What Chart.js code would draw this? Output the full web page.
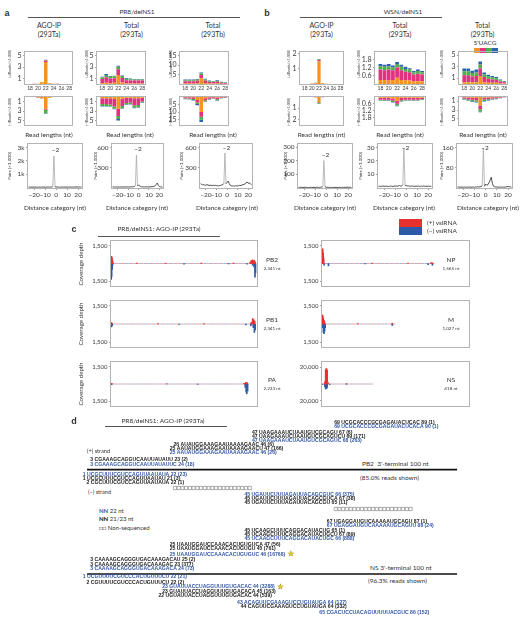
<!DOCTYPE html>
<html>
<head>
<meta charset="utf-8">
<script src="https://cdn.jsdelivr.net/npm/chart.js@4.4.1/dist/chart.umd.min.js"></script>
<style>
  html, body { margin: 0; padding: 0; background: #fff; overflow: hidden; }
  #fig { position: relative; width: 532px; height: 625px; overflow: hidden; font-family: Lato, "Open Sans", sans-serif; color: #333; }
  #fig canvas { position: absolute; }
  .t { position: absolute; white-space: nowrap; line-height: 1; }
  .rule { position: absolute; height: 0; }
  .sw { position: absolute; }
</style>
</head>
<body>
<div id="fig"></div>
<script>
// ---- size distribution data (reads x1,000), rows are 5' nucleotide U, A, C, G ----
const readLengths = [18, 19, 20, 21, 22, 23, 24, 25, 26, 27, 28];
const lengthTicks = [18, 20, 22, 24, 26, 28];
const nucleotides = ['U', 'A', 'C', 'G'];
const nucColors = ['#f6921e', '#e2327f', '#52ad4c', '#2c63ae'];

const a1Plus = [
  [0.01, 0.02, 0.03, 0.28, 3.9, 0.1, 0.03, 0.02, 0.01, 0.01, 0.01],
  [0.01, 0.01, 0.01, 0.04, 0.25, 0.03, 0.01, 0.01, 0.01, 0.01, 0.01],
  [0, 0, 0.01, 0.02, 0.08, 0.01, 0.01, 0, 0, 0, 0],
  [0, 0, 0, 0.01, 0.04, 0.01, 0, 0, 0, 0, 0]];
const a1Minus = [
  [0.01, 0.02, 0.15, 0.3, 2.5, 0.2, 0.02, 0.01, 0.01, 0.01, 0.01],
  [0.01, 0.01, 0.1, 0.08, 0.2, 0.03, 0.01, 0.01, 0, 0, 0],
  [0, 0, 0.02, 0.04, 0.7, 0.02, 0, 0, 0, 0, 0],
  [0, 0, 0, 0.01, 0.1, 0, 0, 0, 0, 0, 0]];
const a2Plus = [
  [0.15, 0.2, 0.15, 0.2, 1.6, 0.25, 0.1, 0.1, 0.1, 0.1, 0.1],
  [0.75, 1.0, 0.8, 0.8, 1.0, 0.8, 0.55, 0.5, 0.5, 0.5, 0.5],
  [0.3, 0.4, 0.35, 0.35, 0.45, 0.35, 0.25, 0.25, 0.2, 0.2, 0.2],
  [0.1, 0.15, 0.1, 0.1, 0.15, 0.1, 0.1, 0.1, 0.1, 0.1, 0.1]];
const a2Minus = [
  [0.3, 0.3, 0.3, 0.5, 2.5, 0.4, 0.2, 0.2, 0.3, 0.3, 0.2],
  [1.2, 1.2, 1.3, 1.5, 1.5, 1.5, 1.1, 1.0, 1.5, 1.4, 0.8],
  [0.4, 0.4, 0.4, 0.5, 0.6, 0.5, 0.3, 0.3, 0.5, 0.5, 0.2],
  [0.1, 0.1, 0.1, 0.1, 0.3, 0.1, 0.1, 0.1, 0.1, 0.1, 0.1]];
const a3Plus = [
  [0.3, 0.3, 0.3, 0.4, 3.0, 0.4, 0.2, 0.2, 0.2, 0.1, 0.1],
  [1.2, 1.2, 1.2, 1.3, 1.8, 1.4, 0.9, 0.8, 1.0, 0.6, 0.4],
  [0.5, 0.5, 0.5, 0.5, 0.7, 0.6, 0.4, 0.3, 0.4, 0.3, 0.2],
  [0.4, 0.4, 0.4, 0.4, 0.5, 0.4, 0.3, 0.3, 0.4, 0.2, 0.2]];
const a3Minus = [
  [0.3, 0.3, 0.4, 2.2, 10, 1.0, 0.4, 0.3, 0.5, 0.3, 0.2],
  [0.7, 0.8, 1.1, 1.6, 3.0, 1.3, 0.9, 0.7, 1.2, 0.5, 0.3],
  [0.4, 0.5, 0.6, 1.0, 2.0, 0.8, 0.4, 0.3, 0.7, 0.2, 0.2],
  [0.2, 0.2, 0.3, 0.7, 1.5, 0.4, 0.3, 0.2, 0.4, 0.2, 0.1]];
const b1Plus = [
  [0, 0, 0.02, 0.05, 1.5, 0.04, 0.01, 0, 0, 0, 0],
  [0, 0, 0.01, 0.02, 0.1, 0.01, 0, 0, 0, 0, 0],
  [0, 0, 0.01, 0.01, 0.05, 0.01, 0, 0, 0, 0, 0],
  [0, 0, 0, 0, 0.02, 0, 0, 0, 0, 0, 0]];
const b1Minus = [
  [0, 0, 0.01, 0.05, 0.45, 0.03, 0.01, 0, 0, 0, 0],
  [0, 0, 0, 0.02, 0.05, 0.01, 0, 0, 0, 0, 0],
  [0, 0, 0, 0.01, 0.12, 0.01, 0, 0, 0, 0, 0],
  [0, 0, 0, 0, 0.02, 0, 0, 0, 0, 0, 0]];
const b2Plus = [
  [0.3, 0.3, 0.3, 0.3, 0.45, 0.3, 0.25, 0.25, 0.2, 0.2, 0.2],
  [0.75, 0.7, 0.75, 0.7, 0.75, 0.7, 0.65, 0.6, 0.5, 0.55, 0.5],
  [0.25, 0.25, 0.25, 0.2, 0.25, 0.25, 0.2, 0.2, 0.15, 0.2, 0.15],
  [0.15, 0.15, 0.15, 0.15, 0.15, 0.15, 0.15, 0.1, 0.1, 0.1, 0.1]];
const b2Minus = [
  [0.1, 0.1, 0.1, 0.15, 0.35, 0.1, 0.1, 0.1, 0.1, 0.1, 0.1],
  [0.15, 0.15, 0.15, 0.2, 0.25, 0.2, 0.15, 0.15, 0.15, 0.15, 0.1],
  [0.07, 0.08, 0.08, 0.1, 0.15, 0.1, 0.06, 0.07, 0.06, 0.07, 0.06],
  [0.03, 0.03, 0.03, 0.04, 0.06, 0.04, 0.03, 0.03, 0.03, 0.03, 0.03]];
const b3Plus = [
  [0.3, 0.3, 0.3, 0.3, 1.4, 0.3, 0.2, 0.2, 0.2, 0.1, 0.1],
  [1.2, 1.2, 1.0, 1.1, 1.3, 0.9, 0.7, 0.6, 0.5, 0.35, 0.2],
  [0.7, 0.7, 0.6, 0.6, 0.7, 0.5, 0.4, 0.35, 0.3, 0.2, 0.1],
  [0.5, 0.5, 0.4, 0.5, 0.5, 0.3, 0.3, 0.25, 0.2, 0.15, 0.1]];
const b3Minus = [
  [0.15, 0.2, 0.25, 0.3, 2.0, 0.25, 0.2, 0.15, 0.1, 0.07, 0.04],
  [0.25, 0.35, 0.45, 0.5, 0.8, 0.4, 0.35, 0.25, 0.25, 0.13, 0.08],
  [0.2, 0.25, 0.35, 0.35, 0.5, 0.3, 0.25, 0.2, 0.15, 0.1, 0.05],
  [0.1, 0.1, 0.15, 0.15, 0.2, 0.15, 0.1, 0.1, 0.1, 0.05, 0.03]];

// ---- overlapping pair distance (pairs x1,000) ----
const distance = [-25, -24, -23, -22, -21, -20, -19, -18, -17, -16, -15, -14, -13, -12, -11, -10, -9, -8, -7, -6, -5, -4,
  -3, -2, -1, 0, 1, 2, 3, 4, 5, 6, 7, 8, 9, 10, 11, 12, 13, 14, 15, 16, 17, 18, 19, 20, 21, 22, 23];
const distanceTicks = [-20, -10, 0, 10, 20];
const a1Pairs = [9, 8, 6, 7, 5, 6, 8, 7, 6, 5, 7, 6, 8, 9, 7, 6, 8, 10, 12, 9, 11, 15,
  40, 2370, 30, 18, 12, 10, 9, 8, 10, 9, 11, 12, 10, 9, 8, 10, 12, 11, 9, 10, 14, 18, 22, 15, 12, 10, 9];
const a2Pairs = [6, 6, 5, 5, 6, 5, 4, 5, 6, 5, 5, 6, 5, 6, 7, 6, 5, 6, 8, 7, 9, 12,
  25, 490, 20, 38, 22, 12, 8, 7, 6, 6, 7, 8, 7, 6, 8, 9, 10, 12, 15, 25, 45, 65, 30, 12, 8, 6, 5];
const a3Pairs = [55, 45, 38, 40, 35, 30, 42, 36, 28, 34, 30, 25, 32, 28, 30, 26, 24, 22, 28, 30, 35, 40,
  60, 520, 55, 75, 95, 60, 30, 25, 22, 20, 18, 24, 22, 20, 26, 30, 28, 35, 40, 45, 55, 70, 80, 60, 70, 50, 40];
const b1Pairs = [2, 2, 1, 2, 1, 1, 2, 1, 2, 1, 1, 2, 1, 1, 2, 1, 2, 2, 1, 2, 3, 4,
  6, 200, 5, 3, 2, 2, 1, 1, 2, 1, 1, 2, 1, 1, 1, 2, 1, 1, 2, 1, 2, 1, 2, 3, 2, 2, 1];
const b2Pairs = [1, 1, 0.8, 1, 1.2, 0.9, 1, 1.1, 1, 0.8, 1, 1.2, 1, 0.9, 1, 1.1, 1.2, 1, 1.3, 1.5, 1.2, 1.4,
  2, 29.5, 1.8, 1.5, 1.2, 1.3, 1.1, 1, 1.2, 1.1, 1, 0.9, 1.1, 1, 1.2, 1, 0.9, 1.1, 1, 1.2, 1, 0.9, 1, 1.1, 1, 0.9, 1];
const b3Pairs = [3, 3, 2, 3, 2, 2, 3, 2, 2, 3, 2, 3, 2, 2, 3, 2, 3, 3, 4, 3, 4, 5,
  8, 158, 6, 15, 10, 12, 20, 30, 42, 18, 6, 4, 3, 3, 2, 3, 2, 3, 2, 3, 2, 3, 4, 5, 4, 3, 3];

// ---- coverage depth: [position (nt), depth] ----
const pb2Plus = [[4, 250], [10, 600], [16, 480], [22, 300], [30, 120], [420, 40], [880, 30], [1460, 35], [1980, 40],
  [2250, 120], [2268, 260], [2284, 300], [2300, 220], [2316, 280], [2330, 150]];
const pb2Minus = [[4, 1350], [10, 1100], [18, 500], [26, 150], [1180, 50], [1900, 40], [2200, 60], [2290, 150],
  [2312, 300], [2328, 1150], [2336, 800]];
const pb1Plus = [[6, 120], [14, 80], [760, 30], [1500, 30], [2270, 150], [2290, 450], [2306, 350], [2322, 250]];
const pb1Minus = [[4, 250], [12, 200], [20, 100], [1100, 40], [2180, 80], [2260, 150], [2300, 300], [2318, 700], [2330, 500]];
const paPlus = [[6, 60], [14, 40], [900, 25], [2150, 60], [2180, 140], [2200, 120]];
const paMinus = [[8, 50], [1400, 30], [2170, 300], [2185, 700], [2195, 850], [2208, 600]];
const npPlus = [[4, 600], [10, 1250], [16, 900], [24, 400], [700, 30], [1200, 30], [1520, 80], [1540, 60]];
const npMinus = [[30, 150], [90, 200], [600, 30], [1480, 100], [1540, 150]];
const mPlus = [[4, 750], [10, 700], [18, 500], [26, 300], [34, 200], [500, 30], [980, 60]];
const mMinus = [[10, 300], [20, 700], [28, 800], [36, 600], [44, 300], [980, 120]];
const nsPlus = [[24, 3000], [30, 17000], [36, 18500], [42, 16500], [48, 2000], [200, 300]];
const nsMinus = [[6, 500], [24, 3500], [30, 6000], [36, 5500], [42, 4000], [64, 400], [200, 200]];
const segmentLengths = { PB2: 2341, PB1: 2341, PA: 2233, NP: 1565, M: 1027, NS: 418 };
const depthTick = 1500;
const nsDepthTick = 20000;

// ---- reads at the 3' terminal 100 nt: [start, sequence, end, count] ----
const pb2PlusReads = [
  [69, 'UCGCACCCGCGAGAUACUCAC', 89, 1],
  [69, 'UCGCACCCGCGAGAUACUCACA', 90, 1],
  [47, 'UAAGAAAUCUAAUGUCGCAGU', 67, 6],
  [47, 'UAAGAAAUCUAAUGUCGCAGUCU', 69, 171],
  [47, 'UAAGAAAUCUAAUGUCGCAGUC', 68, 263],
  [26, 'AUAUGGAAAGAAUAAAAGAAC', 46, 6],
  [25, 'AAUAUGGAAAGAAUAAAAGAACU', 47, 166],
  [25, 'AAUAUGGAAAGAAUAAAAGAAC', 46, 26],
  [3, 'CGAAAGCAGGUCAAUUAUAUU', 23, 2],
  [3, 'CGAAAGCAGGUCAAUUAUAUUC', 24, 18]];
const pb2MinusReads = [
  [1, 'UCGCUUUCGUCCAGUUAAUAUA', 22, 23],
  [1, 'UCGCUUUCGUCCAGUUAAUAU', 21, 3],
  [2, 'CGCUUUCGUCCAGUUAAUAUA', 22, 1],
  [45, 'UGAUUCUUUAGAUUACAGCGUC', 66, 375],
  [45, 'UGAUUCUUUAGAUUACAGCGUCA', 67, 38],
  [45, 'UGAUUCUUUAGAUUACAGCGU', 65, 11]];
const nsPlusReads = [
  [67, 'UGAGGAUGUCAAAAAUGCAGU', 87, 1],
  [67, 'UGAGGAUGUCAAAAAUGCAGUU', 88, 24],
  [45, 'UCAAGCUUUCAGGACAUACUG', 65, 1],
  [45, 'UCAAGCUUUCAGGACAUACUGCU', 67, 89],
  [45, 'UCAAGCUUUCAGGACAUACUGC', 66, 888],
  [25, 'UAAUGGAUCCAAACACUGUGUCA', 47, 56],
  [25, 'UAAUGGAUCCAAACACUGUGU', 45, 761],
  [25, 'UAAUGGAUCCAAACACUGUGUC', 46, 16768],
  [3, 'CAAAAGCAGGGUGACAAAGACAU', 25, 2],
  [3, 'CAAAAGCAGGGUGACAAAGAC', 23, 377],
  [3, 'CAAAAGCAGGGUGACAAAGACA', 24, 73]];
const nsMinusReads = [
  [1, 'UCGUUUUCGUCCCACUGUUUCU', 22, 21],
  [2, 'CGUUUUCGUCCCACUGUUUCU', 22, 2],
  [23, 'GUAUUACCUAGGUUUGUGACAC', 44, 3288],
  [23, 'GUAUUACCUAGGUUUGUGACACA', 45, 163],
  [22, 'UGUAUUACCUAGGUUUGUGACAC', 44, 539],
  [43, 'ACAGUUCGAAAGUCCUGUAUGA', 64, 127],
  [44, 'CAGUUCGAAAGUCCUGUAUGA', 64, 332],
  [65, 'CGACUCCUACAGUUUUUACGUC', 86, 152]];
const starredCounts = [16768, 3288];
const pb2GapA = [24, 25, 26, 27, 28, 29, 30, 31, 32, 33, 34, 35, 36, 37, 38, 39, 40, 41, 42, 43, 44];
const pb2GapB = [67, 68, 69, 70, 71, 72, 73, 74, 75, 76, 77, 78, 79, 80, 81, 82, 83, 84, 85, 86, 87];

// row layout of panel d (text lines)
const pb2PlusRows = [0.7, 1.6, 3.25, 4.1, 5.1, 6.3, 7.25, 8.2, 10, 11.1];
const pb2MinusRows = [13.6, 14.6, 15.6, 18.75, 19.75, 20.75];
const nsPlusRows = [25.4, 26.4, 27.75, 28.75, 29.75, 31.25, 32.25, 33.6, 35, 36.1, 37.25];
const nsMinusRows = [39.3, 40.6, 41.75, 42.9, 43.9, 45.7, 46.8, 48.1];

const RED = '#e8312f';
const BLUE = '#2b5aa8';
const SEQ_BLUE = '#3156a8';

Chart.defaults.font.family = 'Lato, "Open Sans", sans-serif';
Chart.defaults.color = '#3a3a3a';

const fig = document.getElementById('fig');

function label(html, x, y, size, opts = {}) {
  const d = document.createElement('div');
  d.className = 't';
  d.innerHTML = html;
  d.style.fontSize = size + 'px';
  d.style.left = x + 'px';
  d.style.top = y + 'px';
  const ax = opts.align === 'left' ? '0' : opts.align === 'right' ? '-100%' : '-50%';
  d.style.transform = `translate(${ax}, -50%)` + (opts.rotate ? ` rotate(${opts.rotate}deg)` : '');
  if (opts.bold) d.style.fontWeight = 'bold';
  if (opts.family) d.style.fontFamily = opts.family;
  if (opts.color) d.style.color = opts.color;
  fig.appendChild(d);
}

function rule(x1, x2, y, w = 0.8, color = '#555') {
  const d = document.createElement('div');
  d.className = 'rule';
  d.style.left = x1 + 'px';
  d.style.width = (x2 - x1) + 'px';
  d.style.top = y + 'px';
  d.style.borderTop = `${w}px solid ${color}`;
  fig.appendChild(d);
}

function swatch(x, y, w, h, color) {
  const d = document.createElement('div');
  d.className = 'sw';
  Object.assign(d.style, { left: x + 'px', top: y + 'px', width: w + 'px', height: h + 'px', background: color });
  fig.appendChild(d);
}

// frame around the plot area
const framePlugin = {
  id: 'frame',
  afterDatasetsDraw(chart) {
    const { left, top, right, bottom } = chart.chartArea;
    const ctx = chart.ctx;
    ctx.save();
    ctx.strokeStyle = '#b3b3b3';
    ctx.lineWidth = 1;
    ctx.strokeRect(Math.round(left) - 0.5, Math.round(top) - 0.5, Math.round(right - left) + 1, Math.round(bottom - top) + 1);
    ctx.restore();
  }
};

// label the highest point with its distance category
const peakPlugin = {
  id: 'peak',
  afterDatasetsDraw(chart) {
    const pts = chart.data.datasets[0].data;
    let best = 0;
    pts.forEach((p, i) => { if (p.y > pts[best].y) best = i; });
    const el = chart.getDatasetMeta(0).data[best];
    const v = pts[best].x;
    const ctx = chart.ctx;
    ctx.save();
    ctx.font = '6.5px Lato, sans-serif';
    ctx.fillStyle = '#333';
    ctx.textAlign = 'center';
    ctx.textBaseline = 'middle';
    ctx.fillText(v < 0 ? '\u2212' + (-v) : String(v), el.x + 1.5, Math.max(chart.chartArea.top + 3.5, el.y - 6));
    ctx.restore();
  }
};

function addCanvas(left, top, width, height) {
  const c = document.createElement('canvas');
  c.width = width;
  c.height = height;
  c.style.left = left + 'px';
  c.style.top = top + 'px';
  c.style.width = width + 'px';
  c.style.height = height + 'px';
  fig.appendChild(c);
  return c;
}

// box = [x, y, w, h] of the plot frame, pad = [left, top, right, bottom] room for axes
function placeChart(box, pad, config) {
  const [x, y, w, h] = box;
  const [pl, pt, pr, pb] = pad;
  const canvas = addCanvas(Math.round(x - pl), Math.round(y - pt), Math.round(w + pl + pr), Math.round(h + pt + pb));
  const o = config.options;
  const sx = o.scales.x, sy = o.scales.y;
  o.responsive = false;
  o.animation = false;
  o.devicePixelRatio = 1;
  o.layout = { padding: { left: sy.display === false ? pl : 0, top: pt, right: pr, bottom: sx.display === false ? pb : 0 } };
  if (sy.display !== false) sy.afterFit = s => { s.width = pl; };
  if (sx.display !== false) sx.afterFit = s => { s.height = pb; };
  o.plugins = Object.assign({ legend: { display: false }, tooltip: { enabled: false } }, o.plugins || {});
  return new Chart(canvas, config);
}

const tickGrid = { display: true, drawOnChartArea: false, drawTicks: true, tickLength: 2, color: '#888', lineWidth: 0.8 };

function sizeChart(box, stacks, yMax, yTicks, lower) {
  const datasets = nucleotides.map((n, k) => ({
    label: n,
    data: readLengths.map((len, i) => ({ x: len, y: stacks[k][i] })),
    backgroundColor: nucColors[k],
    barPercentage: 0.9,
    categoryPercentage: 1
  }));
  return placeChart(box, [16, 4, 3, lower ? 2 : 9], {
    type: 'bar',
    data: { datasets },
    options: {
      scales: {
        x: {
          type: 'linear', stacked: true, offset: false, min: 16.7, max: 28.7, display: !lower,
          grid: { display: false, drawTicks: false, offset: false }, border: { display: false },
          afterBuildTicks: s => { s.ticks = lengthTicks.map(v => ({ value: v })); },
          ticks: { font: { size: 5 }, padding: 1.5, maxRotation: 0, autoSkip: false }
        },
        y: {
          stacked: true, min: 0, max: yMax, reverse: !!lower,
          grid: tickGrid, border: { display: false },
          afterBuildTicks: s => { s.ticks = yTicks.map(v => ({ value: v })); },
          ticks: { font: { size: 7 }, padding: 1.5 }
        }
      }
    },
    plugins: [framePlugin]
  });
}

function pairsChart(box, values, yMin, yMax, yTicks, fmt) {
  return placeChart(box, [20, 4, 6, 12], {
    type: 'line',
    data: {
      datasets: [{
        data: distance.map((d, i) => ({ x: d, y: values[i] })),
        borderColor: '#222', borderWidth: 0.8, pointRadius: 0, tension: 0,
        segment: { borderColor: c => (c.p0.parsed.x === -2 || c.p1.parsed.x === -2) ? '#a9a9a9' : '#262626' }
      }]
    },
    options: {
      scales: {
        x: {
          type: 'linear', min: -25.5, max: 23.5,
          grid: tickGrid, border: { display: false },
          afterBuildTicks: s => { s.ticks = distanceTicks.map(v => ({ value: v })); },
          ticks: { font: { size: 6.5 }, padding: 1, maxRotation: 0, autoSkip: false,
            callback: v => v < 0 ? '\u2212' + (-v) : String(v) }
        },
        y: {
          min: yMin, max: yMax,
          grid: tickGrid, border: { display: false },
          afterBuildTicks: s => { s.ticks = yTicks.map(v => ({ value: v })); },
          ticks: { font: { size: 6.5 }, padding: 1.5, callback: fmt }
        }
      }
    },
    plugins: [framePlugin, peakPlugin]
  });
}

function coverageChart(box, padLeft, plus, minus, length, xMax, yMax, tick) {
  return placeChart(box, [padLeft, 4, 2, 4], {
    type: 'bar',
    data: {
      datasets: [
        { data: plus.map(([p, v]) => ({ x: p, y: v })), backgroundColor: RED, barThickness: 1, grouped: false },
        { data: minus.map(([p, v]) => ({ x: p, y: -v })), backgroundColor: BLUE, barThickness: 1, grouped: false },
        { type: 'line', data: [{ x: 0, y: 0 }, { x: length, y: 0 }], borderColor: '#f09a9a', borderWidth: 0.9,
          borderDash: [2.5, 2.5], pointRadius: 0 },
        { type: 'line', data: [{ x: 0, y: 0 }, { x: length, y: 0 }], borderColor: '#95aedc', borderWidth: 0.9,
          borderDash: [2.5, 2.5], borderDashOffset: 2.5, pointRadius: 0 }
      ]
    },
    options: {
      scales: {
        x: { type: 'linear', min: 0, max: xMax, display: false, offset: false },
        y: {
          min: -yMax, max: yMax,
          grid: tickGrid, border: { display: false },
          afterBuildTicks: s => { s.ticks = [-tick, tick].map(v => ({ value: v })); },
          ticks: { font: { size: 6 }, padding: 1.5, callback: v => Math.abs(v).toLocaleString('en-US') }
        }
      }
    },
    plugins: [framePlugin]
  });
}

// ================= panel a & b headings =================
label('a', 7, 13, 9, { bold: true, family: '"Liberation Sans", Arial, sans-serif' });
label('PR8/delNS1', 137, 11.5, 6.5);
rule(28, 240, 16.5);
label('b', 267, 13, 9, { bold: true, family: '"Liberation Sans", Arial, sans-serif' });
label('WSN/delNS1', 403, 11.5, 6.5);
rule(300, 442, 16.5);

const columns = [
  ['AGO-IP', '(293Ta)', 49], ['Total', '(293Ta)', 131.5], ['Total', '(293Tb)', 213],
  ['AGO-IP', '(293Ta)', 321.5], ['Total', '(293Ta)', 400], ['Total', '(293Tb)', 482.5]];
columns.forEach(([l1, l2, cx]) => { label(l1, cx, 25, 7); label(l2, cx, 33.5, 7); });

label("5'UACG", 485, 42.5, 6.5);
nucColors.forEach((c, k) => swatch(473.5 + k * 6, 47.5, 6, 5, c));

// size distributions
sizeChart([25, 50, 47, 34], a1Plus, 5.7, [1, 3, 5], false);
sizeChart([25, 95, 47, 33], a1Minus, 5.7, [1, 3, 5], true);
sizeChart([97, 50, 48, 34], a2Plus, 5.7, [1, 3, 5], false);
sizeChart([97, 95, 48, 33], a2Minus, 5.7, [1, 3, 5], true);
sizeChart([180, 50, 48, 34], a3Plus, 17, [5, 10, 15], false);
sizeChart([180, 95, 48, 33], a3Minus, 18, [5, 10, 15], true);
sizeChart([300, 50, 43, 34], b1Plus, 2.15, [1, 2], false);
sizeChart([300, 95, 43, 33], b1Minus, 2.4, [1, 2], true);
sizeChart([375, 50, 50, 34], b2Plus, 2.35, [0.6, 1.2, 1.8], false);
sizeChart([375, 95, 50, 33], b2Minus, 2.35, [0.6, 1.2, 1.8], true);
sizeChart([459, 50, 48, 34], b3Plus, 5.6, [1, 3, 5], false);
sizeChart([459, 95, 48, 33], b3Minus, 6.2, [1, 3, 5], true);

[10, 87, 170.5, 289, 359, 441.5].forEach(x => {
  label('(+)Reads (\u00d71,000)', x, 64, 3.7, { rotate: -90 });
  label('(\u2212)Reads (\u00d71,000)', x, 112, 3.7, { rotate: -90 });
});
[49, 130, 213, 321.5, 400, 483].forEach(x => label('Read lengths (nt)', x, 135, 6.5));

// pair distance
const kFmt = v => (v / 1000) + 'k';
pairsChart([28, 143, 54, 45], a1Pairs, -60, 3250, [1000, 2000, 3000], kFmt);
pairsChart([112, 143, 51, 45], a2Pairs, -10, 650, [300, 600], v => String(v));
pairsChart([200, 143, 52, 45], a3Pairs, -10, 650, [300, 600], v => String(v));
pairsChart([298, 143, 54, 45], b1Pairs, -3, 320, [100, 200, 300], v => String(v));
pairsChart([378, 143, 54, 45], b2Pairs, -0.3, 32.3, [10, 20, 30], v => String(v));
pairsChart([457, 143, 55, 45], b3Pairs, -1, 173, [80, 160], v => String(v));

[9, 95, 181, 285, 359.5, 441].forEach(x => label('Pairs (\u00d71,000)', x, 166, 4.6, { rotate: -90 }));
[55, 137, 227, 325, 404, 488].forEach(x => label('Distance category (nt)', x, 207.5, 6.5));

// ================= panel c =================
label('c', 74, 229, 9, { bold: true, family: '"Liberation Sans", Arial, sans-serif' });
label('PR8/delNS1: AGO-IP (293Ta)', 159, 229, 6.5);
rule(98, 220, 235.5);
swatch(399, 219, 23, 8, RED);
swatch(399, 227, 23, 8, BLUE);
label('(+) vsiRNA', 427, 223, 6.5, { align: 'left' });
label('(\u2212) vsiRNA', 427, 231, 6.5, { align: 'left' });

const rowsC = [[240, 47], [300, 48], [361, 46]];
coverageChart([111, 240, 146, 47], 24, pb2Plus, pb2Minus, segmentLengths.PB2, 2360, 1900, depthTick);
coverageChart([111, 300, 146, 48], 24, pb1Plus, pb1Minus, segmentLengths.PB1, 2360, 1900, depthTick);
coverageChart([111, 361, 146, 46], 24, paPlus, paMinus, segmentLengths.PA, 2360, 1900, depthTick);
coverageChart([322, 240, 147, 47], 30, npPlus, npMinus, segmentLengths.NP, 2050, 1900, depthTick);
coverageChart([322, 300, 147, 48], 30, mPlus, mMinus, segmentLengths.M, 2050, 1900, depthTick);
coverageChart([322, 361, 147, 46], 30, nsPlus, nsMinus, segmentLengths.NS, 1200, 26000, nsDepthTick);

const segNamesLeft = ['PB2', 'PB1', 'PA'];
const segNamesRight = ['NP', 'M', 'NS'];
rowsC.forEach(([top, h], i) => {
  const cy = top + h / 2;
  label('Coverage depth', 81, cy, 6.2, { rotate: -90 });
  const l = segNamesLeft[i], r = segNamesRight[i];
  label(l, 272, cy - 4, 6.5);
  label(segmentLengths[l].toLocaleString('en-US') + ' nt', 272, cy + 4, 4.6);
  label(r, 451, cy - 4, 6.5);
  label(segmentLengths[r].toLocaleString('en-US') + ' nt', 451, cy + 4, 4.6);
});

// ================= panel d =================
label('d', 74, 421, 9, { bold: true, family: '"Liberation Sans", Arial, sans-serif' });
label('PR8/delNS1: AGO-IP (293Ta)', 163, 420.5, 6.5);
rule(105, 227, 425.5);
label('(+) strand', 87, 451, 5.6, { align: 'left' });
label('(\u2212) strand', 88, 491.7, 5.6, { align: 'left' });
label("PB2&nbsp; 3'-terminal 100 nt", 362, 464.3, 6.5, { align: 'left' });
label('(85.0% reads shown)', 360, 477.7, 6.5, { align: 'left' });
label("NS 3'-terminal 100 nt", 370, 567.7, 6.5, { align: 'left' });
label('(96.3% reads shown)', 368, 580.7, 6.5, { align: 'left' });
label(`<b style="color:${SEQ_BLUE}">NN</b> 22 nt`, 99, 511, 6, { align: 'left' });
label('<b style="color:#111">NN</b> 21/23 nt', 99, 519.3, 6, { align: 'left' });
label('\u25a1\u25a1 Non-sequenced', 99, 528.3, 6, { align: 'left' });

const readBlocks = [
  [pb2PlusReads, pb2PlusRows], [pb2MinusReads, pb2MinusRows],
  [nsPlusReads, nsPlusRows], [nsMinusReads, nsMinusRows]];

const readsPlugin = {
  id: 'reads',
  afterDatasetsDraw(chart) {
    const ctx = chart.ctx, xs = chart.scales.x, ys = chart.scales.y;
    const ntW = xs.getPixelForValue(1) - xs.getPixelForValue(0);
    ctx.save();
    ctx.font = 'bold 4.6px "Liberation Sans", Arial, sans-serif';
    ctx.textBaseline = 'middle';
    readBlocks.forEach(([reads, rows]) => {
      reads.forEach(([start, seq, end, count], i) => {
        const pre = start + ' ';
        const line = pre + seq + ' ' + end + ' (' + count + ')';
        const k = seq.length * ntW / ctx.measureText(seq).width;
        const x0 = xs.getPixelForValue(start);
        const y = ys.getPixelForValue(rows[i]);
        ctx.fillStyle = seq.length === 22 ? SEQ_BLUE : '#1a1a1a';
        ctx.save();
        ctx.translate(x0, y);
        ctx.scale(k, 1);
        const preW = ctx.measureText(pre).width;
        ctx.fillText(line, -preW, 0);
        const endX = x0 + (ctx.measureText(line).width - preW) * k;
        ctx.restore();
        if (starredCounts.includes(count)) {
          ctx.save();
          ctx.font = '7px "DejaVu Sans", sans-serif';
          ctx.fillStyle = '#e9d51f';
          ctx.strokeStyle = '#9c8a10';
          ctx.lineWidth = 0.4;
          ctx.fillText('\u2605', endX + 2.5, y);
          ctx.strokeText('\u2605', endX + 2.5, y);
          ctx.restore();
        }
      });
    });
    ctx.restore();
  }
};

const gapStyle = { pointStyle: 'rect', pointRadius: 2.3, backgroundColor: '#fff', borderColor: '#777', borderWidth: 0.6, showLine: false };
placeChart([83.3, 420, 374, 200], [13.3, 5, 74.7, 5], {
  type: 'scatter',
  data: {
    datasets: [
      { type: 'line', data: [{ x: 1, y: 12.4 }, { x: 100, y: 12.4 }], borderColor: '#111', borderWidth: 1.6, pointRadius: 0 },
      { type: 'line', data: [{ x: 1, y: 38.5 }, { x: 100, y: 38.5 }], borderColor: '#111', borderWidth: 1.6, pointRadius: 0 },
      Object.assign({ data: pb2GapA.map(p => ({ x: p + 0.5, y: 17 })) }, gapStyle),
      Object.assign({ data: pb2GapB.map(p => ({ x: p + 0.5, y: 22.25 })) }, gapStyle)
    ]
  },
  options: {
    scales: {
      x: { type: 'linear', min: 0, max: 100, display: false },
      y: { type: 'linear', min: 0, max: 50, reverse: true, display: false }
    }
  },
  plugins: [readsPlugin]
});
</script>
</body>
</html>
